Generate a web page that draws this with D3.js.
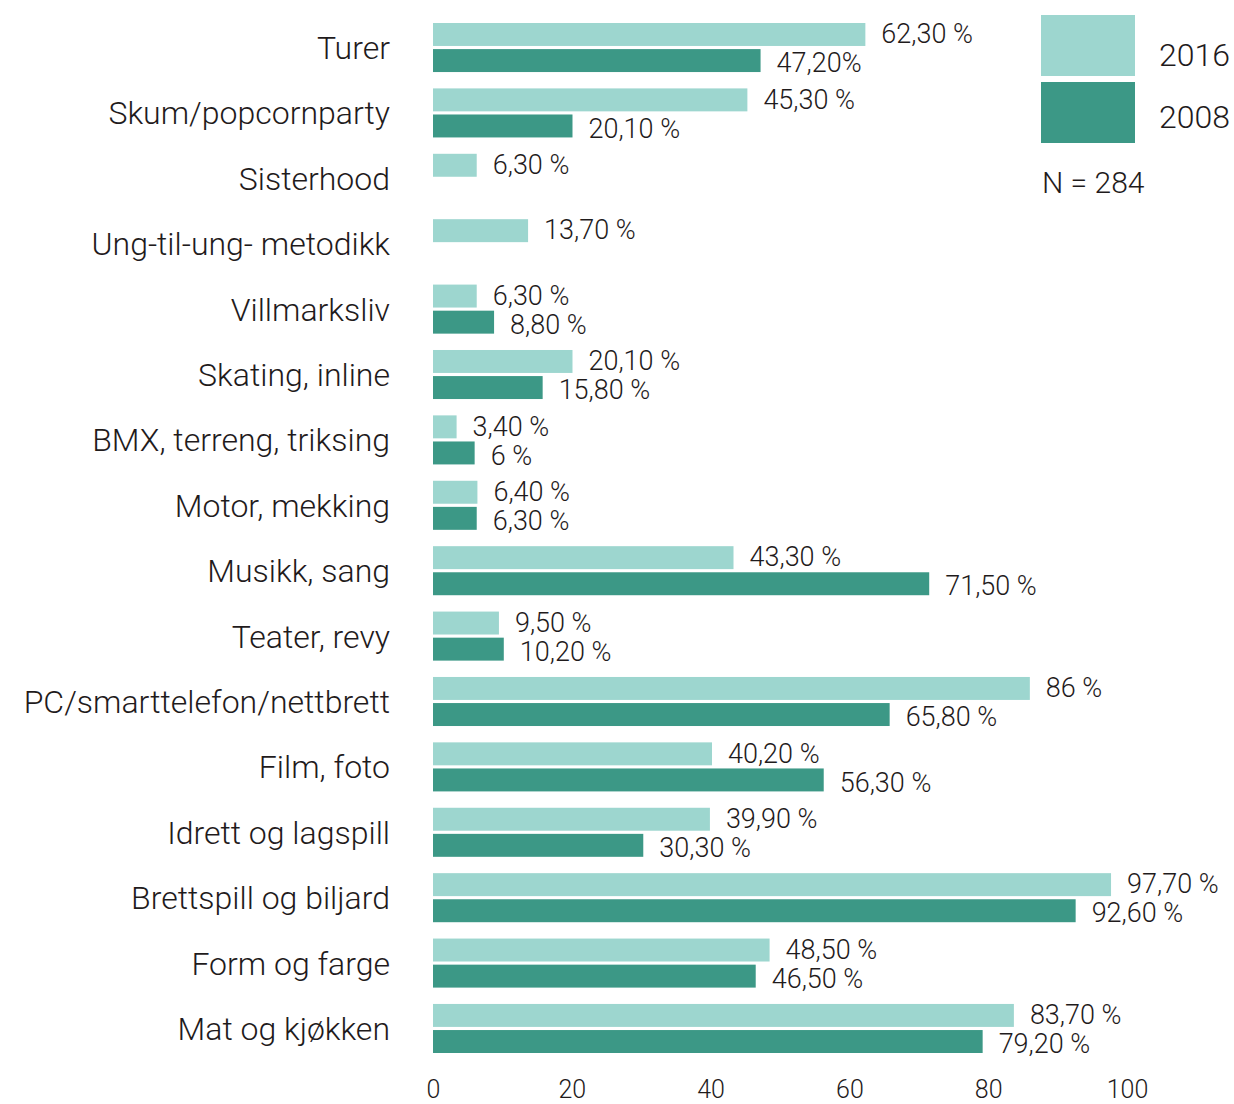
<!DOCTYPE html>
<html><head><meta charset="utf-8">
<script src="https://cdn.jsdelivr.net/npm/d3@7"></script>
<style>
html,body{margin:0;padding:0;background:#fff;}
text{font-family:Roboto,"Open Sans",sans-serif;fill:#1f1b1c;font-weight:300;}
</style></head>
<body><svg id="c" width="1234" height="1104"></svg>
<script>
const categories = ["Turer","Skum/popcornparty","Sisterhood","Ung-til-ung- metodikk","Villmarksliv","Skating, inline","BMX, terreng, triksing","Motor, mekking","Musikk, sang","Teater, revy","PC/smarttelefon/nettbrett","Film, foto","Idrett og lagspill","Brettspill og biljard","Form og farge","Mat og kjøkken"];
const seriesNames = ["2016","2008"];
const values2016 = [62.3,45.3,6.3,13.7,6.3,20.1,3.4,6.4,43.3,9.5,86,40.2,39.9,97.7,48.5,83.7];
const values2008 = [47.2,20.1,null,null,8.8,15.8,6,6.3,71.5,10.2,65.8,56.3,30.3,92.6,46.5,79.2];
const labels2016 = ["62,30 %","45,30 %","6,30 %","13,70 %","6,30 %","20,10 %","3,40 %","6,40 %","43,30 %","9,50 %","86 %","40,20 %","39,90 %","97,70 %","48,50 %","83,70 %"];
const labels2008 = ["47,20%","20,10 %",null,null,"8,80 %","15,80 %","6 %","6,30 %","71,50 %","10,20 %","65,80 %","56,30 %","30,30 %","92,60 %","46,50 %","79,20 %"];
const ticks = [0,20,40,60,80,100];
const noteText = "N = 284";
const colors = {"2016":"#9dd6cf","2008":"#3c9886"};

const svg = d3.select("#c");
const x = d3.scaleLinear().domain([0,100]).range([433,1127]);
const y = d3.scaleBand().domain(categories).range([23,1053]).paddingInner(0.25).paddingOuter(0);
const ys = d3.scaleBand().domain(seriesNames).range([0,y.bandwidth()]).paddingInner(0.12);
const labelShift = {"2016":-1,"2008":2};

const rows = categories.map((c,i)=>({c, s:[
  {k:"2016", v:values2016[i], l:labels2016[i]},
  {k:"2008", v:values2008[i], l:labels2008[i]}
].filter(d=>d.v!=null)}));

const g = svg.append("g");
const row = g.selectAll("g.row").data(rows).join("g").attr("transform",d=>`translate(0,${y(d.c)})`);
row.selectAll("rect").data(d=>d.s).join("rect")
  .attr("x",x(0)).attr("y",d=>ys(d.k)).attr("height",ys.bandwidth())
  .attr("width",d=>x(d.v)-x(0)).attr("fill",d=>colors[d.k]);
row.selectAll("text.val").data(d=>d.s).join("text").attr("class","val")
  .attr("x",d=>x(d.v)+16).attr("y",d=>ys(d.k)+ys.bandwidth()/2+labelShift[d.k])
  .attr("dy","0.36em").style("font-size","27px").text(d=>d.l);

g.selectAll("text.cat").data(categories).join("text").attr("class","cat")
  .attr("x",390).attr("y",d=>y(d)+y.bandwidth()/2).attr("dy","0.36em")
  .attr("text-anchor","end").style("font-size","32px").text(d=>d);

const ax = svg.append("g").attr("transform","translate(0,1098)")
  .call(d3.axisBottom(x).tickValues(ticks).tickSize(0).tickPadding(0).tickFormat(d3.format("d")));
ax.select(".domain").remove();
ax.selectAll("text").style("font-size","25px").style("font-family","Roboto,sans-serif").style("font-weight","300").attr("fill","#1f1b1c").attr("dy","0");

const leg = svg.append("g");
seriesNames.forEach((s,i)=>{
  leg.append("rect").attr("x",1041).attr("y",15+i*67).attr("width",94).attr("height",61).attr("fill",colors[s]);
  leg.append("text").attr("x",1159).attr("y",54+i*62).attr("dy","0.36em").style("font-size","32px").text(s);
});
leg.append("text").attr("x",1042).attr("y",182).attr("dy","0.36em").style("font-size","30px").text(noteText);
</script></body></html>
